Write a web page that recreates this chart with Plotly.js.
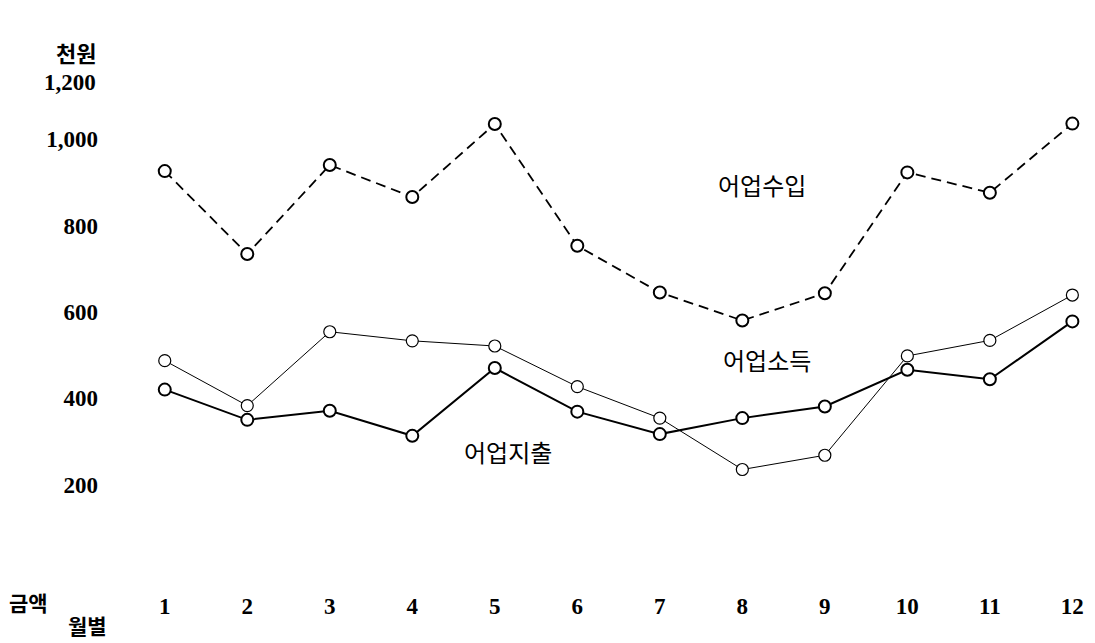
<!DOCTYPE html>
<html>
<head>
<meta charset="utf-8">
<script src="https://cdn.plot.ly/plotly-3.0.1.min.js"></script>
<style>
html,body{margin:0;padding:0;background:#fff;}
#chart{width:1095px;height:643px;}
</style>
</head>
<body>
<div id="chart"></div>
<script>
// Months (월별)
const months = [1, 2, 3, 4, 5, 6, 7, 8, 9, 10, 11, 12];
const monthLabels = ['1', '2', '3', '4', '5', '6', '7', '8', '9', '10', '11', '12'];

// 어업수입 (fishery receipts), 천원
const fishingReceipts = [926, 734, 940, 866, 1035, 753, 645, 580, 643, 923, 876, 1036];
// 어업소득 (fishery income), 천원
const fishingIncome = [487, 383, 554, 533, 521, 427, 354, 235, 268, 498, 534, 639];
// 어업지출 (fishery expenditure), 천원
const fishingExpenditure = [420, 350, 371, 313, 470, 369, 317, 354, 381, 466, 444, 578];

// Y axis ticks
const yTickVals = [200, 400, 600, 800, 1000];
const yTickText = ['200', '400', '600', '800', '1,000'];
const topTickLabel = '1,200';

const serif = '"Liberation Serif", "DejaVu Serif", serif';
const kr = '"Noto Sans CJK KR", sans-serif';

const traces = [
  {
    x: months, y: fishingIncome, type: 'scatter', mode: 'lines+markers',
    name: '어업소득',
    line: {color: '#000', width: 1},
    marker: {symbol: 'circle', size: 12, color: '#fff', line: {color: '#000', width: 1.2}},
    cliponaxis: false
  },
  {
    x: months, y: fishingExpenditure, type: 'scatter', mode: 'lines+markers',
    name: '어업지출',
    line: {color: '#000', width: 2},
    marker: {symbol: 'circle', size: 12, color: '#fff', line: {color: '#000', width: 2}},
    cliponaxis: false
  },
  {
    x: months, y: fishingReceipts, type: 'scatter', mode: 'lines+markers',
    name: '어업수입',
    line: {color: '#000', width: 1.8, dash: '10px,6px'},
    marker: {symbol: 'circle', size: 12, color: '#fff', line: {color: '#000', width: 2}},
    cliponaxis: false
  }
];

const layout = {
  width: 1095, height: 643,
  margin: {l: 107, r: 2, t: 83, b: 72, pad: 0},
  paper_bgcolor: '#fff', plot_bgcolor: '#fff',
  showlegend: false,
  xaxis: {
    range: [0.3, 12.25],
    tickmode: 'array', tickvals: months, ticktext: monthLabels,
    showgrid: false, zeroline: false, showline: false, ticks: '',
    ticklabelstandoff: 19,
    tickfont: {family: serif, size: 23, color: '#000', weight: 'bold'}
  },
  yaxis: {
    range: [0, 1130],
    tickmode: 'array', tickvals: yTickVals, ticktext: yTickText,
    showgrid: false, zeroline: false, showline: false, ticks: '',
    ticklabelstandoff: 8,
    tickfont: {family: serif, size: 23, color: '#000', weight: 'bold'}
  },
  annotations: [
    {text: topTickLabel, xref: 'paper', yref: 'paper', x: -0.009, y: 1.002,
     xanchor: 'right', yanchor: 'middle', showarrow: false,
     font: {family: serif, size: 23, color: '#000', weight: 'bold'}},
    {text: '천원', xref: 'paper', yref: 'paper', x: -0.009, y: 1.0635,
     xanchor: 'right', yanchor: 'middle', showarrow: false,
     font: {family: kr, size: 22, color: '#000', weight: 'bold'}},
    {text: '금액', xref: 'paper', yref: 'paper', x: -0.080, y: -0.0635,
     xanchor: 'center', yanchor: 'middle', showarrow: false,
     font: {family: kr, size: 21, color: '#000', weight: 'bold'}},
    {text: '월별', xref: 'paper', yref: 'paper', x: -0.0193, y: -0.1107,
     xanchor: 'center', yanchor: 'middle', showarrow: false,
     font: {family: kr, size: 21, color: '#000', weight: 'bold'}},
    {text: '어업수입', xref: 'x', yref: 'y', x: 8.24, y: 894,
     xanchor: 'center', yanchor: 'middle', showarrow: false,
     font: {family: kr, size: 24, color: '#000'}},
    {text: '어업소득', xref: 'x', yref: 'y', x: 8.30, y: 489,
     xanchor: 'center', yanchor: 'middle', showarrow: false,
     font: {family: kr, size: 24, color: '#000'}},
    {text: '어업지출', xref: 'x', yref: 'y', x: 5.16, y: 276,
     xanchor: 'center', yanchor: 'middle', showarrow: false,
     font: {family: kr, size: 24, color: '#000'}}
  ]
};

Plotly.newPlot('chart', traces, layout, {staticPlot: true, displayModeBar: false});
</script>
</body>
</html>
